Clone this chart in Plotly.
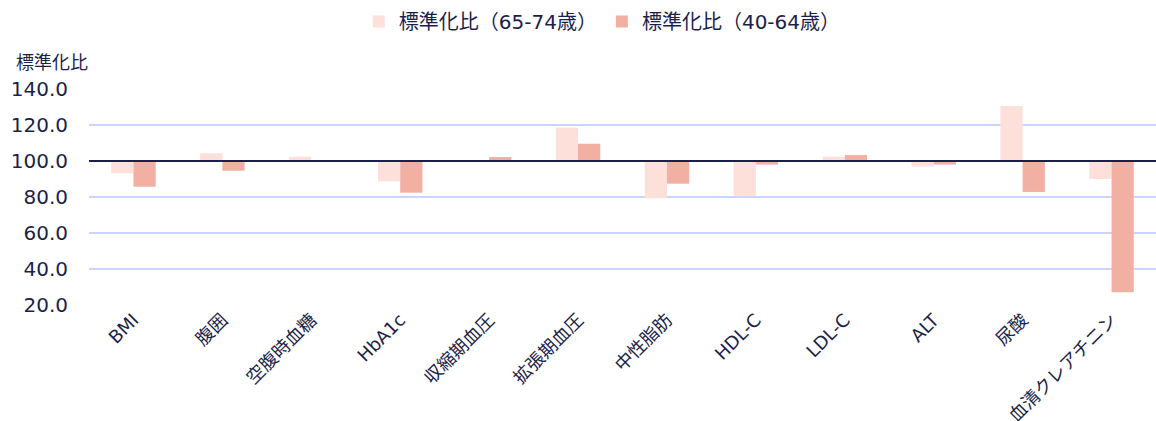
import plotly.graph_objects as go

categories = ["BMI", "腹囲", "空腹時血糖", "HbA1c", "収縮期血圧", "拡張期血圧",
              "中性脂肪", "HDL-C", "LDL-C", "ALT", "尿酸", "血清クレアチニン"]
ratio_65_74 = [93.2, 104.3, 102.4, 88.7, 100.3, 118.5, 79.3, 80.6, 102.4, 96.9, 130.5, 90.0]
ratio_40_64 = [85.7, 94.6, None, 82.4, 102.2, 109.6, 87.4, 98.0, 103.3, 98.0, 82.8, 27.1]
y_ticks = [20, 40, 60, 80, 100, 120, 140]
baseline = 100

# wide Latin glyphs first, CJK glyphs fall back to Noto Sans CJK
FONT = "DejaVu Sans, Noto Sans CJK JP"
NAVY = "#1b1f4b"


def offsets(values):
    return [None if v is None else v - baseline for v in values]


fig = go.Figure()
fig.add_trace(go.Bar(
    name="標準化比（65-74歳）", x=categories, y=offsets(ratio_65_74), base=baseline,
    marker=dict(color="#fde0da", line=dict(width=0)),
    customdata=ratio_65_74, hovertemplate="%{x}: %{customdata:.1f}<extra></extra>",
))
fig.add_trace(go.Bar(
    name="標準化比（40-64歳）", x=categories, y=offsets(ratio_40_64), base=baseline,
    marker=dict(color="#f2b0a3", line=dict(width=0)),
    customdata=ratio_40_64, hovertemplate="%{x}: %{customdata:.1f}<extra></extra>",
))

# reference line at 100
fig.add_shape(type="line", xref="paper", x0=0, x1=1, yref="y", y0=baseline, y1=baseline,
              line=dict(color=NAVY, width=2), layer="above")

fig.update_layout(
    width=1156, height=421,
    margin=dict(l=89, r=0, t=89, b=116, autoexpand=False),
    paper_bgcolor="white", plot_bgcolor="white",
    font=dict(family=FONT, color=NAVY, size=17),
    barmode="group", bargap=0.5, bargroupgap=0,
    showlegend=True,
    legend=dict(orientation="h", x=0.521, xanchor="center", xref="container",
                y=0.995, yanchor="top", yref="container",
                font=dict(size=20, color=NAVY), itemwidth=30,
                traceorder="normal"),
    annotations=[dict(text="標準化比", xref="paper", yref="paper", x=-0.07, y=1.065,
                      xanchor="left", yanchor="bottom", showarrow=False,
                      font=dict(size=18, color=NAVY))],
)
fig.update_xaxes(tickangle=-45, showgrid=False, showline=False, ticks="",
                 automargin=False, tickfont=dict(size=18, color=NAVY))
fig.update_yaxes(range=[20, 140], tickvals=y_ticks, tickformat=".1f",
                 showgrid=True, gridcolor="#cbd5fa", gridwidth=2,
                 zeroline=False, showline=False, ticks="", automargin=False,
                 tickfont=dict(size=20, color=NAVY), ticklabelstandoff=20)

fig.write_html("out.html")
